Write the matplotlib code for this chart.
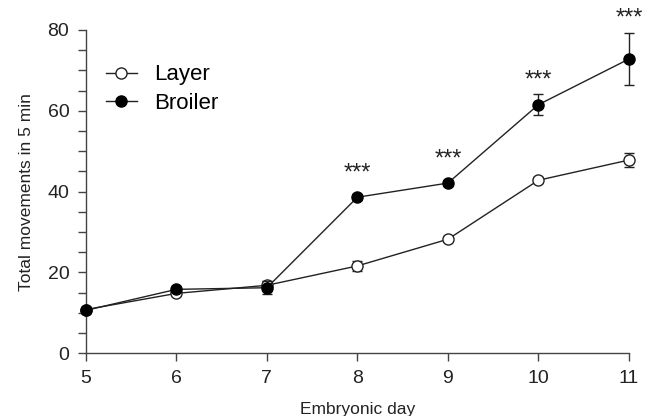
import numpy as np
import matplotlib
matplotlib.use("Agg")
import matplotlib.pyplot as plt
from matplotlib.lines import Line2D

plt.rcParams["font.family"] = ["Liberation Sans", "DejaVu Sans"]

days = [5, 6, 7, 8, 9, 10, 11]
layer_mean = [10.8, 14.8, 16.8, 21.6, 28.2, 42.8, 47.8]
layer_err = [0.6, 0.7, 1.0, 1.3, 0.7, 0.8, 1.8]
broiler_mean = [10.6, 15.8, 16.2, 38.6, 42.1, 61.5, 72.8]
broiler_err = [0.6, 0.7, 1.6, 0.8, 0.7, 2.6, 6.5]
star_days = [8, 9, 10, 11]

AX_COLOR = "#444444"
TXT = "#222222"
MS = 8

fig = plt.figure(figsize=(6.51, 4.16), dpi=100)
ax = fig.add_axes([0.132, 0.151, 0.834, 0.777])

ax.errorbar(days, layer_mean, yerr=layer_err, color=TXT, lw=1.0,
            marker="o", ms=MS, mfc="white", mec=TXT, mew=1.0,
            capsize=3.5, elinewidth=1.0, capthick=1.0,
            clip_on=False, zorder=3)
ax.errorbar(days, broiler_mean, yerr=broiler_err, color=TXT, lw=1.0,
            marker="o", ms=MS, mfc="black", mec="black", mew=1.0,
            capsize=3.5, elinewidth=1.0, capthick=1.0,
            clip_on=False, zorder=4)

ax.set_xlim(5, 11)
ax.set_ylim(0, 80)

# significance stars above the broiler points (offset in pixels)
px_per_unit = fig.get_figheight() * fig.dpi * 0.777 / 80
for d in star_days:
    i = days.index(d)
    off_px = max(broiler_err[i] * px_per_unit, 10) + 3
    ax.annotate("***", (d, broiler_mean[i]), xytext=(0, off_px * 0.72),
                textcoords="offset points", ha="center", va="bottom",
                fontsize=17, color=TXT, annotation_clip=False)

ax.set_xticks(days)
ax.set_yticks([0, 20, 40, 60, 80])
ax.set_yticks(np.arange(0, 81, 5), minor=True)
ax.tick_params(axis="both", which="both", direction="out", colors=AX_COLOR,
               labelcolor=TXT, labelsize=14)
ax.tick_params(axis="both", which="major", length=6, width=1.0, pad=6)
ax.tick_params(axis="y", which="minor", length=6, width=1.0)
ax.tick_params(axis="x", which="minor", length=0)

for s in ["top", "right"]:
    ax.spines[s].set_visible(False)
for s in ["left", "bottom"]:
    ax.spines[s].set_color(AX_COLOR)
    ax.spines[s].set_linewidth(1.0)

ax.set_xlabel("Embryonic day", fontsize=12.5, color=TXT, labelpad=11)
ax.set_ylabel("Total movements in 5 min", fontsize=12.5, color=TXT,
              labelpad=10)

handles = [
    Line2D([], [], color=TXT, lw=1.0, marker="o", ms=MS, mfc="white",
           mec=TXT, mew=1.0),
    Line2D([], [], color=TXT, lw=1.0, marker="o", ms=MS, mfc="black",
           mec="black", mew=1.0),
]
ax.legend(handles, ["Layer", "Broiler"], loc="upper left",
          bbox_to_anchor=(0.0, 0.955), frameon=False, fontsize=16,
          handlelength=1.4, handletextpad=0.75, labelspacing=0.35)

fig.savefig("out.png", dpi=100)
